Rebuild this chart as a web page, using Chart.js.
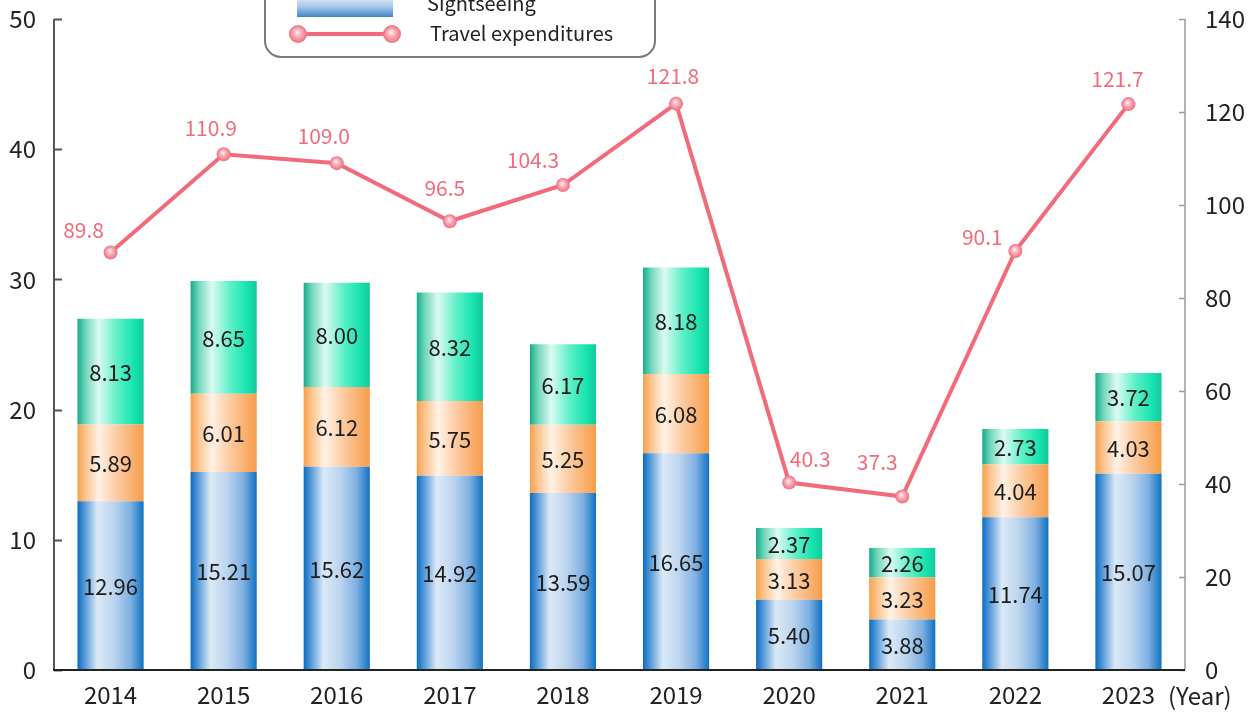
<!DOCTYPE html>
<html>
<head>
<meta charset="utf-8">
<script src="https://cdn.jsdelivr.net/npm/chart.js@4.4.1/dist/chart.umd.min.js"></script>
<style>
  html, body { margin: 0; padding: 0; background: #fff; }
  #chart { display: block; }
</style>
</head>
<body>
<canvas id="chart" width="1258" height="712"></canvas>
<script>
// Données
const years = ['2014', '2015', '2016', '2017', '2018', '2019', '2020', '2021', '2022', '2023'];
const sightseeing = [12.96, 15.21, 15.62, 14.92, 13.59, 16.65, 5.40, 3.88, 11.74, 15.07];
const middleSegment = [5.89, 6.01, 6.12, 5.75, 5.25, 6.08, 3.13, 3.23, 4.04, 4.03];
const topSegment = [8.13, 8.65, 8.00, 8.32, 6.17, 8.18, 2.37, 2.26, 2.73, 3.72];
const travelExpenditures = [89.8, 110.9, 109.0, 96.5, 104.3, 121.8, 40.3, 37.3, 90.1, 121.7];
const leftTicks = [0, 10, 20, 30, 40, 50];
const rightTicks = [0, 20, 40, 60, 80, 100, 120, 140];

// Décalage des étiquettes de la courbe (dx, dy en pixels)
const lineLabelOffsets = [
    [-27, -22], [-13, -26], [-13, -27], [-5, -33], [-30, -25],
    [-3, -28], [21, -24], [-25, -35], [-33, -14], [-11, -25]
];

const FONT = "'Noto Sans CJK JP', 'Noto Sans', sans-serif";
const BAR_PCT = 0.585;
const LINE_COLOR = '#f26b7b';

const blueStops = [[0, '#0c6cc0'], [0.12, '#5c9ddb'], [0.3, '#dbe9f6'], [0.55, '#bcd5ee'], [0.8, '#7fb0e2'], [1, '#0f72c2']];
const orangeStops = [[0, '#f7a04b'], [0.12, '#fbc38c'], [0.32, '#fff2e6'], [0.6, '#fccaa0'], [1, '#f79d4a']];
const greenStops = [[0, '#17ab8a'], [0.12, '#6fd6b9'], [0.32, '#dcfaf1'], [0.6, '#5ef0c8'], [0.85, '#17e4b0'], [1, '#12c99b']];

function barGradient(stops) {
    return function(context) {
        const chart = context.chart;
        const xs = chart.scales.x;
        if (!xs || context.type !== 'data' || !chart.chartArea) {
            return stops[0][1];
        }
        const cx = xs.getPixelForValue(context.dataIndex);
        const w = (xs.width / years.length) * BAR_PCT;
        const g = chart.ctx.createLinearGradient(cx - w / 2, 0, cx + w / 2, 0);
        stops.forEach(s => g.addColorStop(s[0], s[1]));
        return g;
    };
}

function pointGradient(context) {
    const chart = context.chart;
    const xs = chart.scales.x;
    const ys = chart.scales.y2;
    if (!xs || !ys || context.type !== 'data' || !chart.chartArea) {
        return LINE_COLOR;
    }
    const x = xs.getPixelForValue(context.dataIndex);
    const y = ys.getPixelForValue(travelExpenditures[context.dataIndex]);
    const g = chart.ctx.createRadialGradient(x - 1, y - 2, 0, x, y, 7);
    g.addColorStop(0, '#fff1f3');
    g.addColorStop(0.5, '#f7a9b3');
    g.addColorStop(1, '#ef6f80');
    return g;
}

// Pas de marge supplémentaire due aux étiquettes
function fixSize(prop, value) {
    return function(scale) {
        scale[prop] = value;
        scale.paddingTop = 0;
        scale.paddingBottom = 0;
        scale.paddingLeft = 0;
        scale.paddingRight = 0;
    };
}

// Axes avec graduations vers l'intérieur
const axisPlugin = {
    id: 'axisPlugin',
    afterDatasetsDraw(chart) {
        const { ctx, chartArea, scales } = chart;
        ctx.save();
        // axe gauche
        ctx.strokeStyle = '#555';
        ctx.lineWidth = 2;
        ctx.beginPath();
        ctx.moveTo(chartArea.left, chartArea.top);
        ctx.lineTo(chartArea.left, chartArea.bottom);
        leftTicks.forEach(t => {
            const y = Math.round(scales.y.getPixelForValue(t)) + 0.5;
            ctx.moveTo(chartArea.left, y);
            ctx.lineTo(chartArea.left + 8, y);
        });
        ctx.stroke();
        // axe droit
        ctx.strokeStyle = '#9a9a9a';
        ctx.lineWidth = 1.5;
        ctx.beginPath();
        ctx.moveTo(chartArea.right, chartArea.top);
        ctx.lineTo(chartArea.right, chartArea.bottom);
        rightTicks.forEach(t => {
            const y = Math.round(scales.y2.getPixelForValue(t)) + 0.5;
            ctx.moveTo(chartArea.right, y);
            ctx.lineTo(chartArea.right - 6, y);
        });
        ctx.stroke();
        // axe du bas
        ctx.strokeStyle = '#222';
        ctx.lineWidth = 2;
        ctx.beginPath();
        ctx.moveTo(chartArea.left - 1, chartArea.bottom);
        ctx.lineTo(chartArea.right, chartArea.bottom);
        ctx.stroke();
        ctx.restore();
    }
};

// Étiquettes de valeurs
const valueLabels = {
    id: 'valueLabels',
    afterDatasetsDraw(chart) {
        const ctx = chart.ctx;
        ctx.save();
        ctx.textAlign = 'center';
        ctx.textBaseline = 'middle';
        chart.data.datasets.forEach((ds, i) => {
            const meta = chart.getDatasetMeta(i);
            if (meta.type === 'bar') {
                ctx.font = '22px ' + FONT;
                ctx.fillStyle = '#1c1c1c';
                meta.data.forEach((el, j) => {
                    const c = el.getCenterPoint();
                    ctx.fillText(ds.data[j].toFixed(2), c.x, c.y + 1);
                });
            } else {
                ctx.font = '21px ' + FONT;
                ctx.fillStyle = LINE_COLOR;
                meta.data.forEach((el, j) => {
                    const off = lineLabelOffsets[j];
                    ctx.fillText(ds.data[j].toFixed(1), el.x + off[0], el.y + off[1]);
                });
            }
        });
        ctx.restore();
    }
};

// Légende (partiellement hors du cadre) et mention (Year)
const legendBox = {
    id: 'legendBox',
    afterDraw(chart) {
        const ctx = chart.ctx;
        const xs = chart.scales.x;
        ctx.save();
        // cadre arrondi
        ctx.fillStyle = '#fff';
        ctx.strokeStyle = '#7a7a7a';
        ctx.lineWidth = 2;
        ctx.beginPath();
        ctx.roundRect(265, -60, 390, 117, 16);
        ctx.fill();
        ctx.stroke();
        // échantillon Sightseeing
        const g = ctx.createLinearGradient(0, -4, 0, 17);
        g.addColorStop(0, '#e3eef8');
        g.addColorStop(0.5, '#a9c9ea');
        g.addColorStop(1, '#3f84c8');
        ctx.fillStyle = g;
        ctx.fillRect(297, -4, 96, 21);
        ctx.fillStyle = '#222';
        ctx.font = '20px ' + FONT;
        ctx.textAlign = 'left';
        ctx.textBaseline = 'middle';
        ctx.fillText('Sightseeing', 427, 3);
        // échantillon Travel expenditures
        ctx.strokeStyle = LINE_COLOR;
        ctx.lineWidth = 4;
        ctx.beginPath();
        ctx.moveTo(298, 34);
        ctx.lineTo(392, 34);
        ctx.stroke();
        [298, 392].forEach(x => {
            const rg = ctx.createRadialGradient(x - 1, 32, 0, x, 34, 9);
            rg.addColorStop(0, '#fff1f3');
            rg.addColorStop(0.5, '#f7a9b3');
            rg.addColorStop(1, '#ef6f80');
            ctx.fillStyle = rg;
            ctx.beginPath();
            ctx.arc(x, 34, 9, 0, Math.PI * 2);
            ctx.fill();
        });
        ctx.fillStyle = '#222';
        ctx.fillText('Travel expenditures', 430, 33);
        // (Year)
        ctx.font = '24px ' + FONT;
        ctx.fillText('(Year)', 1168, xs.bottom - 16);
        ctx.restore();
    }
};

const ctx = document.getElementById('chart');

new Chart(ctx, {
    data: {
        labels: years,
        datasets: [
            {
                type: 'line',
                label: 'Travel expenditures',
                data: travelExpenditures,
                yAxisID: 'y2',
                borderColor: LINE_COLOR,
                borderWidth: 4,
                pointRadius: 7,
                pointHoverRadius: 7,
                pointBorderWidth: 0,
                pointBackgroundColor: pointGradient,
                tension: 0,
                order: 0
            },
            {
                type: 'bar',
                label: 'Sightseeing',
                data: sightseeing,
                yAxisID: 'y',
                backgroundColor: barGradient(blueStops),
                borderWidth: 0,
                barPercentage: BAR_PCT,
                categoryPercentage: 1,
                order: 1
            },
            {
                type: 'bar',
                label: 'Segment 2',
                data: middleSegment,
                yAxisID: 'y',
                backgroundColor: barGradient(orangeStops),
                borderWidth: 0,
                barPercentage: BAR_PCT,
                categoryPercentage: 1,
                order: 1
            },
            {
                type: 'bar',
                label: 'Segment 3',
                data: topSegment,
                yAxisID: 'y',
                backgroundColor: barGradient(greenStops),
                borderWidth: 0,
                barPercentage: BAR_PCT,
                categoryPercentage: 1,
                order: 1
            }
        ]
    },
    options: {
        responsive: false,
        animation: false,
        layout: { padding: { top: 19 } },
        plugins: {
            legend: { display: false },
            tooltip: { enabled: false }
        },
        scales: {
            x: {
                stacked: true,
                grid: { display: false, drawTicks: false },
                border: { display: false },
                ticks: { color: '#222', font: { size: 24, family: FONT }, padding: 10 },
                afterFit: fixSize('height', 42)
            },
            y: {
                stacked: true,
                position: 'left',
                min: 0,
                max: 50,
                grid: { display: false, drawTicks: false },
                border: { display: false },
                ticks: { stepSize: 10, color: '#222', font: { size: 24, family: FONT }, padding: 18 },
                afterFit: fixSize('width', 54)
            },
            y2: {
                position: 'right',
                min: 0,
                max: 140,
                grid: { display: false, drawTicks: false },
                border: { display: false },
                ticks: { stepSize: 20, color: '#222', font: { size: 24, family: FONT }, padding: 20 },
                afterFit: fixSize('width', 73)
            }
        }
    },
    plugins: [axisPlugin, valueLabels, legendBox]
});
</script>
</body>
</html>
